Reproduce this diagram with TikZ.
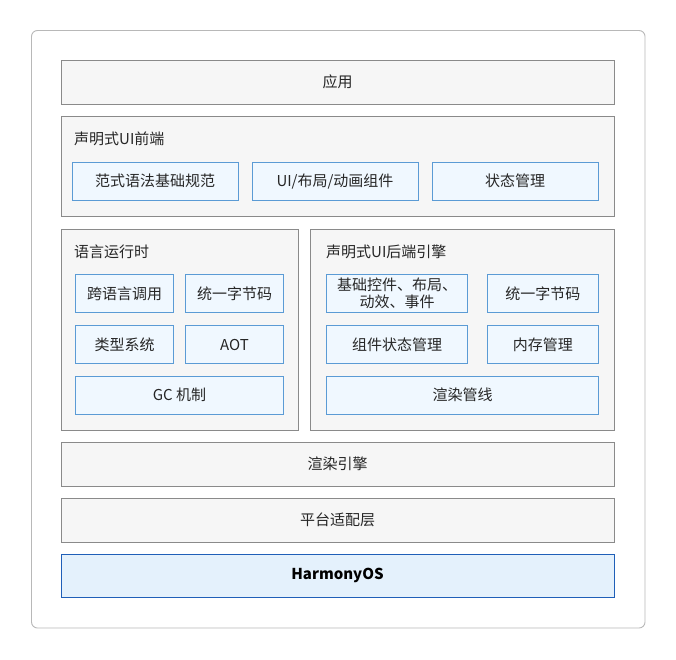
\documentclass[tikz,border=0pt]{standalone}
\usepackage{fontspec}
\setmainfont{Noto Sans CJK SC}
\usetikzlibrary{positioning}
\definecolor{txt}{HTML}{262626}
\definecolor{layerfill}{HTML}{F6F6F6}
\definecolor{layerline}{HTML}{8A8A8A}
\definecolor{cellfill}{HTML}{F0F8FF}
\definecolor{cellline}{HTML}{5B9BD5}
\definecolor{osfill}{HTML}{E4F1FC}
\definecolor{osline}{HTML}{1F5FB8}

\begin{document}
\begin{tikzpicture}[x=1pt,y=-1pt,
    layer/.style={draw=layerline,fill=layerfill,line width=0.9pt,text=txt,inner sep=0pt,
        font=\fontsize{15}{17}\selectfont},
    cell/.style={draw=cellline,fill=cellfill,line width=0.9pt,text=txt,inner sep=0pt,
        minimum height=38pt,align=center,font=\fontsize{15}{17}\selectfont},
    title/.style={anchor=west,text=txt,inner sep=0pt,font=\fontsize{15}{17}\selectfont}]
        \useasboundingbox (0,0) rectangle (676,659);
        \draw[draw=black!28,fill=white,line width=0.9pt,rounded corners=6pt] (31.5,30.5) rectangle (645,628);

        % top layers
        \node[layer,minimum width=553pt,minimum height=43.5pt] (app) at (337.5,82.25) {应用};
        \node[layer,minimum width=553pt,minimum height=99.5pt] (front) at (337.5,166.25) {};
        \node[title] (fronttitle) at (74,138.5) {声明式UI前端};
        \node[cell,minimum width=166pt] (syntax) at (155,181.25) {范式语法基础规范};
        \node[cell,minimum width=166pt] (widgets) at (335,181.25) {UI/布局/动画组件};
        \node[cell,minimum width=166pt] (state) at (515,181.25) {状态管理};

        % runtime
        \node[layer,minimum width=236.5pt,minimum height=201pt] (runtime) at (179.75,329.5) {};
        \node[title] (runtimetitle) at (74,252) {语言运行时};
        \node[cell,minimum width=98pt] (crosslang) at (124.5,293.5) {跨语言调用};
        \node[cell,minimum width=98pt] (bytecode) at (234.5,293.5) {统一字节码};
        \node[cell,minimum width=98pt] (types) at (124.5,344.5) {类型系统};
        \node[cell,minimum width=98pt] (aot) at (234.5,344.5) {AOT};
        \node[cell,minimum width=208pt] (gc) at (179.5,395) {GC 机制};

        % backend
        \node[layer,minimum width=304pt,minimum height=201pt] (backend) at (462.5,329.5) {};
        \node[title] (backendtitle) at (326,252) {声明式UI后端引擎};
        \node[cell,minimum width=141pt] (controls) at (397,293.5) {基础控件、布局、\\动效、事件};
        \node[cell,minimum width=111.5pt] (bebytecode) at (542.75,293.5) {统一字节码};
        \node[cell,minimum width=141pt] (compstate) at (397,344.5) {组件状态管理};
        \node[cell,minimum width=111.5pt] (memory) at (542.75,344.5) {内存管理};
        \node[cell,minimum width=272pt] (pipeline) at (462.5,395) {渲染管线};

        % bottom layers
        \node[layer,minimum width=553pt,minimum height=44pt] (render) at (337.5,464) {渲染引擎};
        \node[layer,minimum width=553pt,minimum height=44pt] (platform) at (337.5,520) {平台适配层};
        \node[layer,draw=osline,fill=osfill,text=black,minimum width=553pt,minimum height=43pt,
            font=\fontsize{15}{17}\selectfont\bfseries] (os) at (337.5,575.5) {HarmonyOS};
    \end{tikzpicture}
\end{document}
